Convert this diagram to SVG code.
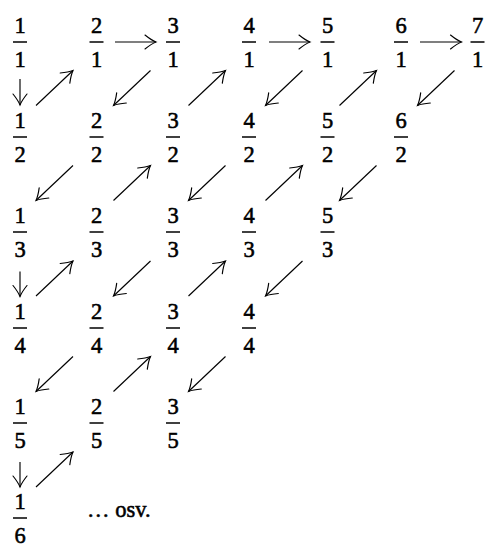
<svg xmlns="http://www.w3.org/2000/svg" width="492" height="548" viewBox="0 0 492 548">
<defs>
<marker id="ah" markerUnits="userSpaceOnUse" markerWidth="28" markerHeight="28" viewBox="-14 -14 28 28" refX="0" refY="0" orient="auto">
<path d="M-11,-7 Q-4.5,-1.8 0,0 Q-4.5,1.8 -11,7" fill="none" stroke="#000" stroke-width="1.15" stroke-linecap="round"/>
</marker>
<style>
text{font-family:"Liberation Serif","Times New Roman",serif;font-size:22.5px;fill:#000;stroke:#000;stroke-width:0.55}
.f text{text-anchor:middle}
.f line{stroke:#000;stroke-width:1.5}
#connectors line{stroke:#000;stroke-width:1.15;marker-end:url(#ah)}
</style>
</defs>
<rect width="492" height="548" fill="#fff"/>
<g id="n11" class="f"><text x="20" y="32.5">1</text><line x1="13" y1="42" x2="27" y2="42"/><text x="20" y="66.5">1</text></g>
<g id="n21" class="f"><text x="96.5" y="32.5">2</text><line x1="89.5" y1="42" x2="103.5" y2="42"/><text x="96.5" y="66.5">1</text></g>
<g id="n31" class="f"><text x="173" y="32.5">3</text><line x1="166" y1="42" x2="180" y2="42"/><text x="173" y="66.5">1</text></g>
<g id="n41" class="f"><text x="249" y="32.5">4</text><line x1="242" y1="42" x2="256" y2="42"/><text x="249" y="66.5">1</text></g>
<g id="n51" class="f"><text x="327.5" y="32.5">5</text><line x1="320.5" y1="42" x2="334.5" y2="42"/><text x="327.5" y="66.5">1</text></g>
<g id="n61" class="f"><text x="401" y="32.5">6</text><line x1="394" y1="42" x2="408" y2="42"/><text x="401" y="66.5">1</text></g>
<g id="n71" class="f"><text x="477.5" y="32.5">7</text><line x1="470.5" y1="42" x2="484.5" y2="42"/><text x="477.5" y="66.5">1</text></g>

<g id="n12" class="f"><text x="20" y="127.5">1</text><line x1="13" y1="137" x2="27" y2="137"/><text x="20" y="161.5">2</text></g>
<g id="n22" class="f"><text x="96.5" y="127.5">2</text><line x1="89.5" y1="137" x2="103.5" y2="137"/><text x="96.5" y="161.5">2</text></g>
<g id="n32" class="f"><text x="173" y="127.5">3</text><line x1="166" y1="137" x2="180" y2="137"/><text x="173" y="161.5">2</text></g>
<g id="n42" class="f"><text x="249" y="127.5">4</text><line x1="242" y1="137" x2="256" y2="137"/><text x="249" y="161.5">2</text></g>
<g id="n52" class="f"><text x="327.5" y="127.5">5</text><line x1="320.5" y1="137" x2="334.5" y2="137"/><text x="327.5" y="161.5">2</text></g>
<g id="n62" class="f"><text x="401" y="127.5">6</text><line x1="394" y1="137" x2="408" y2="137"/><text x="401" y="161.5">2</text></g>

<g id="n13" class="f"><text x="20" y="222.5">1</text><line x1="13" y1="232" x2="27" y2="232"/><text x="20" y="256.5">3</text></g>
<g id="n23" class="f"><text x="96.5" y="222.5">2</text><line x1="89.5" y1="232" x2="103.5" y2="232"/><text x="96.5" y="256.5">3</text></g>
<g id="n33" class="f"><text x="173" y="222.5">3</text><line x1="166" y1="232" x2="180" y2="232"/><text x="173" y="256.5">3</text></g>
<g id="n43" class="f"><text x="249" y="222.5">4</text><line x1="242" y1="232" x2="256" y2="232"/><text x="249" y="256.5">3</text></g>
<g id="n53" class="f"><text x="327.5" y="222.5">5</text><line x1="320.5" y1="232" x2="334.5" y2="232"/><text x="327.5" y="256.5">3</text></g>

<g id="n14" class="f"><text x="20" y="318.5">1</text><line x1="13" y1="328" x2="27" y2="328"/><text x="20" y="352.5">4</text></g>
<g id="n24" class="f"><text x="96.5" y="318.5">2</text><line x1="89.5" y1="328" x2="103.5" y2="328"/><text x="96.5" y="352.5">4</text></g>
<g id="n34" class="f"><text x="173" y="318.5">3</text><line x1="166" y1="328" x2="180" y2="328"/><text x="173" y="352.5">4</text></g>
<g id="n44" class="f"><text x="249" y="318.5">4</text><line x1="242" y1="328" x2="256" y2="328"/><text x="249" y="352.5">4</text></g>

<g id="n15" class="f"><text x="20" y="413.5">1</text><line x1="13" y1="423" x2="27" y2="423"/><text x="20" y="447.5">5</text></g>
<g id="n25" class="f"><text x="96.5" y="413.5">2</text><line x1="89.5" y1="423" x2="103.5" y2="423"/><text x="96.5" y="447.5">5</text></g>
<g id="n35" class="f"><text x="173" y="413.5">3</text><line x1="166" y1="423" x2="180" y2="423"/><text x="173" y="447.5">5</text></g>

<g id="n16" class="f"><text x="20" y="508.5">1</text><line x1="13" y1="518" x2="27" y2="518"/><text x="20" y="542.5">6</text></g>

<g id="etc"><text x="87" y="516.5">… osv.</text></g>

<g id="connectors">
<line x1="20" y1="79" x2="20" y2="105"/>
<line x1="20" y1="271.5" x2="20" y2="296.5"/>
<line x1="20" y1="462" x2="20" y2="487"/>
<line x1="115" y1="42" x2="156" y2="42"/>
<line x1="269" y1="42" x2="310" y2="42"/>
<line x1="420" y1="42" x2="461.5" y2="42"/>
<line x1="36" y1="105.5" x2="73" y2="70.5"/>
<line x1="150.5" y1="70.5" x2="113.5" y2="105.5"/>
<line x1="188.5" y1="105.5" x2="225.5" y2="70.5"/>
<line x1="302.5" y1="70.5" x2="265.5" y2="105.5"/>
<line x1="339.5" y1="105.5" x2="376.5" y2="70.5"/>
<line x1="454.5" y1="70.5" x2="417.5" y2="105.5"/>
<line x1="73" y1="165.5" x2="36" y2="200.5"/>
<line x1="113.5" y1="200.5" x2="150.5" y2="165.5"/>
<line x1="225.5" y1="165.5" x2="188.5" y2="200.5"/>
<line x1="265.5" y1="200.5" x2="302.5" y2="165.5"/>
<line x1="376.5" y1="165.5" x2="339.5" y2="200.5"/>
<line x1="36" y1="296" x2="73" y2="261"/>
<line x1="150.5" y1="261" x2="113.5" y2="296"/>
<line x1="188.5" y1="296" x2="225.5" y2="261"/>
<line x1="302.5" y1="261" x2="265.5" y2="296"/>
<line x1="73" y1="356.5" x2="36" y2="391.5"/>
<line x1="113.5" y1="391.5" x2="150.5" y2="356.5"/>
<line x1="225.5" y1="356.5" x2="188.5" y2="391.5"/>
<line x1="36" y1="487" x2="73" y2="452"/>
</g>
</svg>
